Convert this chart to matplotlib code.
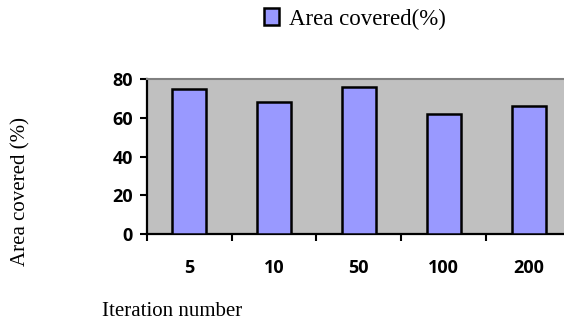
import matplotlib
matplotlib.use("Agg")
import matplotlib.pyplot as plt
import numpy as np

categories = ["5", "10", "50", "100", "200"]
area_covered = [75, 68, 76, 62, 66]
y_ticks = [0, 20, 40, 60, 80]
series_label = "Area covered(%)"
x_label = "Iteration number"
y_label = "Area covered (%)"

W, H = 564, 322
fig = plt.figure(figsize=(W / 100, H / 100), dpi=100)
left, right, top, bottom = 146.7, 571, 79, 234
ax = fig.add_axes([left / W, 1 - bottom / H, (right - left) / W, (bottom - top) / H])
ax.set_facecolor("#C0C0C0")

x = np.arange(len(categories))
bars = ax.bar(x, area_covered, width=0.4, color="#9999FF", edgecolor="black",
              linewidth=1.8, label=series_label, zorder=3)

tick_font = dict(fontfamily="Open Sans", fontweight="bold", fontsize=13)
ax.set_xlim(-0.5, len(categories) - 0.5)
ax.set_ylim(0, 80)
ax.set_yticks(y_ticks)
ax.set_yticklabels([str(v) for v in y_ticks], **tick_font)

ax.set_xticks(np.arange(len(categories) + 1) - 0.5)
ax.set_xticklabels([])
ax.set_xticks(x, minor=True)
ax.set_xticklabels(categories, minor=True, **tick_font)
ax.tick_params(axis="x", which="minor", length=0, pad=18)
ax.tick_params(axis="x", which="major", length=5, width=1.5, direction="out")
ax.tick_params(axis="y", length=5, width=1.5, direction="out", pad=5)

for s in ["left", "bottom"]:
    ax.spines[s].set_linewidth(1.6)
    ax.spines[s].set_color("black")
ax.spines["top"].set_color("#808080")
ax.spines["top"].set_linewidth(1.5)
ax.spines["right"].set_visible(False)

fig.text(21 / W, 1 - 191 / H, y_label, rotation=90, ha="center", va="center",
         fontfamily="Liberation Serif", fontsize=15)
fig.text(101.5 / W, 1 - 311 / H, x_label, ha="left", va="center",
         fontfamily="Liberation Serif", fontsize=15)

fig.legend(handles=[bars], labels=[series_label], loc="center left",
           bbox_to_anchor=(264 / W, 1 - 19 / H), frameon=False,
           handlelength=0.65, handleheight=0.75, handletextpad=0.45,
           borderpad=0, borderaxespad=0,
           prop={"family": "Liberation Serif", "size": 16.5})

fig.savefig("out.png", dpi=100)
